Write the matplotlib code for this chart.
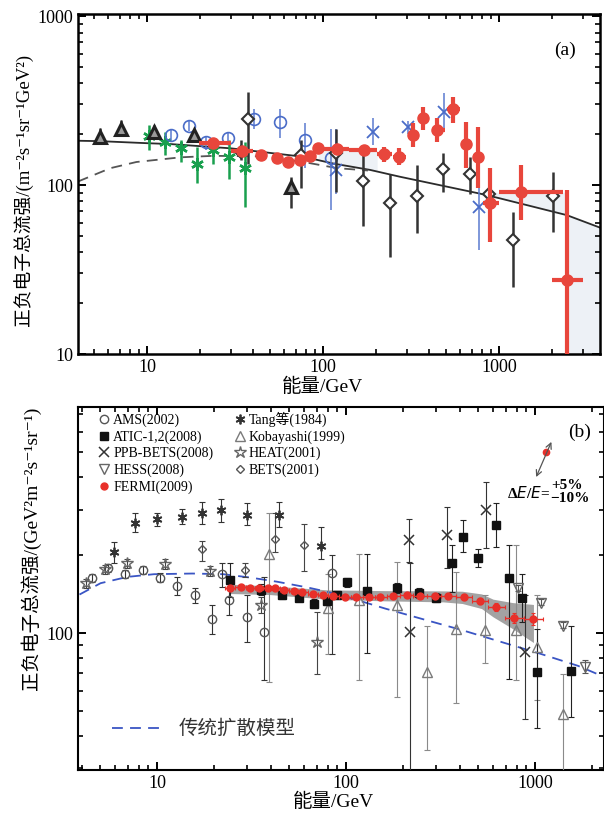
import matplotlib
matplotlib.use('Agg')
import numpy as np
import matplotlib.pyplot as plt
from matplotlib.lines import Line2D
from matplotlib.ticker import NullFormatter, FixedLocator, LogLocator

plt.rcParams['font.family'] = ['Liberation Serif', 'DejaVu Serif', 'Noto Sans CJK SC']

# ---------------- panel (a) data ----------------
tri_e = [5.4, 7.1, 10.9, 18.6, 65.9]
tri_f = [193, 216, 207, 198, 98]
tri_lo = [177, 198, 190, 182, 73]
tri_hi = [218, 244, 226, 215, 112]

green_e = [10.3, 12.7, 15.6, 19.2, 23.6, 29.4, 36.0]
green_f = [195, 180, 165, 134, 161, 147, 127]
green_lo = [161, 151, 137, 103, 134, 109, 74.5]
green_hi = [226, 207, 185, 169, 185, 185, 180]

bc_e = [13.6, 17.2, 21.6, 28.7, 40.4, 56.6, 78.9, 111.6]
bc_f = [198, 223, 180, 189, 246, 236, 185, 144]
bc_lo = [185, 208, 161, 173, 216, 189, 126, 71]
bc_hi = [212, 240, 193, 207, 284, 284, 232, 216]

bx_e = [119, 192, 305, 487, 766]
bx_f = [123, 207, 221, 272, 74.5]
bx_lo = [89, 173, 200, 216, 41]
bx_hi = [216, 248, 240, 349, 112]

dm_e = [34, 37.5, 75, 119, 169, 241, 343, 480, 682, 877, 1205, 2040]
dm_f = [158, 245, 151, 154, 106, 78.5, 86.5, 124, 117, 89, 47.3, 86.5]
dm_lo = [140, 134, 96, 91, 57, 37.7, 51.8, 91.5, 89, 82, 25, 53]
dm_hi = [185, 357, 185, 216, 165, 117, 131, 154, 147, 96, 69.5, 120]

red_e = [23.8, 34.5, 44.3, 54.6, 63.5, 74, 84.3, 94, 120, 171, 223, 270, 326,
         372, 442, 550, 646, 756, 889, 1334, 2427]
red_f = [177, 160, 151, 144, 137, 141, 149, 165, 163, 161, 152, 147, 198,
         248, 211, 281, 175, 147, 78.5, 90.6, 27.4]
red_lo = [177, 160, 151, 144, 137, 141, 149, 165, 163, 161, 137, 131, 169,
          211, 181, 232, 127, 95.5, 46.3, 62, 10]
red_hi = [177, 160, 151, 144, 137, 141, 149, 165, 163, 161, 169, 165, 232,
          291, 248, 333, 237, 222, 127, 131, 93.3]
red_xlo = [19.8, 30, 44.3, 54.6, 63.5, 74, 84.3, 94, 100, 140, 202, 250, 326,
           372, 414, 504, 646, 756, 813, 1000, 2010]
red_xhi = [30, 39.8, 44.3, 54.6, 63.5, 74, 84.3, 94, 140, 203, 245, 296, 326,
           372, 493, 600, 646, 756, 1000, 2310, 3015]

solid_e = [4.05, 5.4, 10, 13.5, 30, 77.5, 115, 185, 274, 780, 1014, 2427, 3750]
solid_f = [183, 182, 177, 175, 165, 147, 134, 123, 112, 89, 83.4, 66.4, 56]
dash_e = [4.05, 6.2, 8.7, 15.5, 23.8, 42, 77.5, 120, 180]
dash_f = [105, 126, 137, 146, 149, 148, 137, 126, 122]

shade1_e = [94, 120, 171, 203]
shade1_hi = [165, 163, 161, 160]
shade1_lo = [140, 131, 124, 120]
shade2_e = [780, 1014, 2427]
shade2_hi = [90.6, 90.6, 90.6]
shade2_lo = [89, 83.4, 66.4]
shade3_e = [2427, 3750]
shade3_hi = [66.4, 56]

# ---------------- panel (b) data ----------------
ams_e = [4.52, 5.5, 6.79, 8.46, 10.4, 12.8, 15.9, 19.5, 22.1, 24.1, 29.8, 36.8, 84.3]
ams_f = [163, 179, 169, 175, 164, 152, 140, 113, 170, 134, 115, 101, 171]
ams_lo = [157, 173, 163, 170, 157, 140, 131, 99.7, 151, 118, 92.6, 65.8, 83.4]
ams_hi = [169, 185, 176, 181, 171, 165, 150, 128, 186, 165, 141, 165, 200]

atic_e = [24.2, 35.4, 45.8, 56.6, 67.7, 79, 89.6, 100.8, 129, 186, 244, 300,
          362, 417, 498, 621, 732, 854, 1020, 1549]
atic_f = [161, 147, 141, 137, 130, 133, 141, 157, 146, 149, 143, 137,
          187, 235, 196, 261, 163, 137, 71, 71.3]
atic_lo = [138, 140, 136, 133, 125, 128, 136, 151, 84, 143, 137, 132,
           144, 206, 180, 215, 66.8, 110, 42.9, 47.5]
atic_hi = [186, 155, 146, 141, 135, 138, 146, 163, 203, 156, 150, 143,
           219, 273, 212, 317, 219, 170, 104, 107]

ppb_e = [216, 342, 552, 219, 881]
ppb_f = [229, 240, 298, 100.6, 84.7]
ppb_lo = [188, 178, 213, 29, 46.6]
ppb_hi = [277, 307, 384, 186, 140]

hess_e = [815, 1079, 1410, 1849]
hess_f = [149, 131, 107, 74.1]
hess_lo = [146, 128, 105, 70]
hess_hi = [153, 135, 110, 79]

fermi_e = [24.3, 27.7, 31.2, 34.6, 38.5, 42.3, 46.9, 52.8, 58.8, 66.7, 75.4, 85.5,
           98.6, 113.5, 131.9, 151.8, 177, 209, 246, 294, 347, 422, 509, 623, 777, 981]
fermi_f = [150, 151, 149.6, 148.8, 148.8, 148.8, 147.4, 145.3, 144.5, 141.9, 140.2,
           139.4, 138.1, 137.7, 138.1, 138.1, 139.0, 140.2, 139.8, 139.0, 139.0,
           138.1, 133.3, 126.4, 114.6, 113.2]
fermi_dy = [2, 2, 2, 2, 2, 2, 2, 2, 2, 2, 2, 2, 2, 2, 2, 2, 2, 2.5, 2.5, 3, 3,
            3.5, 4, 4.5, 5, 6]

tang_e = [5.95, 7.63, 9.97, 13.5, 17.3, 21.7, 29.8, 44, 73.6]
tang_f = [206, 267, 275, 281, 292, 300, 287, 287, 217]
tang_lo = [186, 245, 259, 263, 265, 269, 261, 258, 194]
tang_hi = [226, 292, 290, 301, 321, 329, 317, 321, 258]

kob_e = [38.9, 80.5, 117, 186, 267, 384, 547, 789, 1030, 1410]
kob_f = [203, 125, 134, 129, 71, 104, 103, 103, 88.3, 48.6]
kob_lo = [64.9, 83.4, 65.8, 56.8, 35.3, 53.5, 76.4, 65.8, 55, 29]
kob_hi = [290, 170, 203, 188, 107, 172, 140, 219, 140, 69.8]

heat_e = [4.19, 5.3, 6.95, 11, 19.1, 35.6, 70]
heat_f = [156, 177, 186, 185, 174, 129, 92.6]
heat_lo = [150, 170, 178, 177, 167, 120, 69.8]
heat_hi = [162, 184, 194, 193, 181, 138, 121]

bets_e = [17.3, 29.3, 42, 59.7]
bets_f = [211, 175, 231, 219]
bets_lo = [190, 165, 206, 174]
bets_hi = [227, 186, 290, 263]

band_e = [24.3, 39.5, 79.8, 161, 326, 412, 521, 600, 759, 981]
band_hi = [154.6, 152.4, 147, 146, 145.7, 145.2, 141.8, 135.3, 131.3, 129.1]
band_lo = [142.3, 141, 135.3, 133.3, 132.1, 130.2, 124.5, 115.6, 104.2, 92.0]

model_e = [3.89, 5.03, 6.98, 9.65, 15.4, 22.4, 31.2, 43.3, 63.1, 79.8, 101, 128,
           161, 258, 412, 659, 1054, 1686, 2318]
model_f = [141, 156, 165, 169, 170, 169, 164, 158, 150, 144.4, 138, 131, 124.5,
           113, 102.7, 92.6, 83.5, 74.8, 67.8]


def yerr(f, lo, hi):
    f = np.array(f, float)
    return [f - np.array(lo, float), np.array(hi, float) - f]


def style(ax):
    ax.set_xscale('log')
    ax.set_yscale('log')
    ax.tick_params(which='both', direction='in', top=True, right=True, labelsize=13)
    ax.tick_params(which='major', length=6, width=1.4)
    ax.tick_params(which='minor', length=3.5, width=1.2)
    ax.xaxis.set_minor_formatter(NullFormatter())
    ax.yaxis.set_minor_formatter(NullFormatter())


fig = plt.figure(figsize=(6.04, 8.13), dpi=100)

# ================= panel (a) =================
ax1 = fig.add_axes([78 / 604, 1 - 354 / 813, 522 / 604, 340 / 813])
style(ax1)
for s in ax1.spines.values():
    s.set_linewidth(1.8)

fc = '#edf1f6'
ax1.fill_between(shade1_e, shade1_lo, shade1_hi, color=fc, lw=0, zorder=0)
ax1.fill_between(shade2_e, shade2_lo, shade2_hi, color=fc, lw=0, zorder=0)
ax1.fill_between(shade3_e, [10, 10], shade3_hi, color=fc, lw=0, zorder=0)

ax1.plot(solid_e, solid_f, color='#2b2b2b', lw=1.3, zorder=2)
ax1.plot(dash_e, dash_f, color='#555555', lw=1.3, ls=(0, (6, 4)), zorder=2)

ax1.errorbar(green_e, green_f, yerr=yerr(green_f, green_lo, green_hi), fmt='none',
             ecolor='#19a04e', elinewidth=1.8, zorder=3)
ax1.plot(green_e, green_f, ls='none', marker=(6, 2, 0), ms=9, mew=1.8,
         color='#19a04e', zorder=3)

ax1.errorbar(bc_e, bc_f, yerr=yerr(bc_f, bc_lo, bc_hi), fmt='none',
             ecolor='#5b7bd0', elinewidth=1.1, zorder=3)
ax1.plot(bc_e, bc_f, ls='none', marker='o', ms=8.5, mfc='none', mec='#4a6cc8',
         mew=1.2, zorder=3)
ax1.errorbar(bx_e, bx_f, yerr=yerr(bx_f, bx_lo, bx_hi), fmt='none',
             ecolor='#5b7bd0', elinewidth=1.1, zorder=3)
ax1.plot(bx_e, bx_f, ls='none', marker='x', ms=8, mec='#4a6cc8', mew=1.3, zorder=3)

ax1.errorbar(dm_e, dm_f, yerr=yerr(dm_f, dm_lo, dm_hi), fmt='none',
             ecolor='#333333', elinewidth=1.8, zorder=3)
ax1.plot(dm_e, dm_f, ls='none', marker='D', ms=6, mfc='white', mec='#333333',
         mew=1.5, zorder=3)

ax1.errorbar(tri_e, tri_f, yerr=yerr(tri_f, tri_lo, tri_hi), fmt='none',
             ecolor='#333333', elinewidth=1.8, zorder=3)
ax1.plot(tri_e, tri_f, ls='none', marker='^', ms=9, mfc='#9a9a9a', mec='#222222',
         mew=2.2, zorder=3)

red_xerr = [np.array(red_e) - np.array(red_xlo), np.array(red_xhi) - np.array(red_e)]
ax1.errorbar(red_e, red_f, yerr=yerr(red_f, red_lo, red_hi), xerr=red_xerr,
             fmt='o', ms=8, color='#e8463c', ecolor='#e8463c', elinewidth=3, zorder=4)

ax1.set_xlim(4.05, 3750)
ax1.set_ylim(10, 1030)
ax1.xaxis.set_major_locator(FixedLocator([10, 100, 1000]))
ax1.set_xticklabels(['10', '100', '1000'])
ax1.yaxis.set_major_locator(FixedLocator([10, 100, 1000]))
ax1.set_yticklabels(['10', '100', '1000'])
ax1.yaxis.set_minor_locator(LogLocator(subs=range(2, 10)))
ax1.xaxis.set_minor_locator(LogLocator(subs=range(2, 10)))

ax1.set_xlabel('能量/GeV', fontsize=14)
ax1.xaxis.set_label_coords(0.469, -0.07)
ax1.set_ylabel('正负电子总流强/(m⁻²s⁻¹sr⁻¹GeV²)', fontsize=13.5)
ax1.yaxis.set_label_coords(-0.086, 0.482)
ax1.text(0.933, 0.894, '(a)', transform=ax1.transAxes, fontsize=14,
         ha='center', va='center')

# ================= panel (b) =================
ax2 = fig.add_axes([78 / 604, 1 - 770 / 813, 526 / 604, 363 / 813])
style(ax2)
for s in ax2.spines.values():
    s.set_linewidth(1.5)

ax2.fill_between(band_e, band_lo, band_hi, color='#a3a3a3', lw=0, zorder=1)
ax2.plot(model_e, model_f, color='#3a55c4', lw=1.3, ls=(0, (6, 4)), zorder=2)

ekw = dict(fmt='none', elinewidth=0.8, capsize=2.5, capthick=0.8, zorder=3)
ax2.errorbar(kob_e, kob_f, yerr=yerr(kob_f, kob_lo, kob_hi), ecolor='#8a8a8a', **ekw)
ax2.errorbar(tang_e, tang_f, yerr=yerr(tang_f, tang_lo, tang_hi), ecolor='#333333', **ekw)
ax2.errorbar(ams_e, ams_f, yerr=yerr(ams_f, ams_lo, ams_hi), ecolor='#333333', **ekw)
ax2.errorbar(heat_e, heat_f, yerr=yerr(heat_f, heat_lo, heat_hi), ecolor='#444444', **ekw)
ax2.errorbar(bets_e, bets_f, yerr=yerr(bets_f, bets_lo, bets_hi), ecolor='#444444', **ekw)
ax2.errorbar(atic_e, atic_f, yerr=yerr(atic_f, atic_lo, atic_hi), ecolor='#222222', **ekw)
ax2.errorbar(ppb_e, ppb_f, yerr=yerr(ppb_f, ppb_lo, ppb_hi), ecolor='#333333', **ekw)
ax2.errorbar(hess_e, hess_f, yerr=yerr(hess_f, hess_lo, hess_hi), ecolor='#555555', **ekw)

mk = {
    'AMS': dict(marker='o', ms=6, mfc='none', mec='#555555', mew=1.0),
    'ATIC': dict(marker='s', ms=6, mfc='#111111', mec='#111111', mew=1.0),
    'PPB': dict(marker='x', ms=7, mec='#333333', mew=1.1),
    'HESS': dict(marker='v', ms=7, mfc='none', mec='#666666', mew=1.0),
    'FERMI': dict(marker='o', ms=5, mfc='#e8302a', mec='#e8302a', mew=1.0),
    'Tang': dict(marker=(6, 2, 0), ms=7, mec='#333333', mew=1.3),
    'Kob': dict(marker='^', ms=6.5, mfc='none', mec='#7a7a7a', mew=1.0),
    'HEAT': dict(marker='*', ms=9, mfc='none', mec='#666666', mew=1.0),
    'BETS': dict(marker='D', ms=4.5, mfc='none', mec='#555555', mew=1.0),
}
ax2.plot(kob_e, kob_f, ls='none', zorder=4, **mk['Kob'])
ax2.plot(tang_e, tang_f, ls='none', zorder=4, **mk['Tang'])
ax2.plot(ams_e, ams_f, ls='none', zorder=4, **mk['AMS'])
ax2.plot(heat_e, heat_f, ls='none', zorder=4, **mk['HEAT'])
ax2.plot(bets_e, bets_f, ls='none', zorder=4, **mk['BETS'])
ax2.plot(atic_e, atic_f, ls='none', zorder=4, **mk['ATIC'])
ax2.plot(ppb_e, ppb_f, ls='none', zorder=4, **mk['PPB'])
ax2.plot(hess_e, hess_f, ls='none', zorder=4, **mk['HESS'])

# Fermi: horizontal bars span the bins between neighbouring points
fe = np.array(fermi_e)
edges = np.sqrt(fe[1:] * fe[:-1])
left = np.concatenate([[fe[0] ** 2 / edges[0]], edges])
right = np.concatenate([edges, [fe[-1] ** 2 / edges[-1]]])
ax2.errorbar(fermi_e, fermi_f, yerr=fermi_dy, xerr=[fe - left, right - fe], fmt='none',
             ecolor='#e8302a', elinewidth=1.0, capsize=1.5, capthick=0.8, zorder=5)
ax2.plot(fermi_e, fermi_f, ls='none', zorder=6, **mk['FERMI'])

ax2.set_xlim(3.82, 2317)
ax2.set_ylim(29.6, 748)
ax2.xaxis.set_major_locator(FixedLocator([10, 100, 1000]))
ax2.set_xticklabels(['10', '100', '1000'])
ax2.yaxis.set_major_locator(FixedLocator([100]))
ax2.set_yticklabels(['100'])
ax2.yaxis.set_minor_locator(LogLocator(subs=range(2, 10)))
ax2.xaxis.set_minor_locator(LogLocator(subs=range(2, 10)))

ax2.set_xlabel('能量/GeV', fontsize=14)
ax2.xaxis.set_label_coords(0.485, -0.063)
ax2.set_ylabel('正负电子总流强/(GeV²m⁻²s⁻¹sr⁻¹)', fontsize=14)
ax2.yaxis.set_label_coords(-0.07, 0.61)
ax2.text(0.954, 0.931, '(b)', transform=ax2.transAxes, fontsize=14,
         ha='center', va='center')

labels = ['AMS(2002)', 'ATIC-1,2(2008)', 'PPB-BETS(2008)', 'HESS(2008)', 'FERMI(2009)',
          'Tang等(1984)', 'Kobayashi(1999)', 'HEAT(2001)', 'BETS(2001)']
keys = ['AMS', 'ATIC', 'PPB', 'HESS', 'FERMI', 'Tang', 'Kob', 'HEAT', 'BETS']
handles = [Line2D([], [], ls='none', **mk[k]) for k in keys]
ax2.legend(handles, labels, ncol=2, loc='upper left', bbox_to_anchor=(0.034, 0.995),
           frameon=False, fontsize=10, handlelength=0.8, handletextpad=0.25,
           labelspacing=0.23, columnspacing=1.5, borderpad=0.2, borderaxespad=0)

# model legend entry inside panel
ax2.plot([0.065, 0.168], [0.115, 0.115], transform=ax2.transAxes, color='#3a55c4',
         lw=1.3, ls=(0, (6, 4)))
ax2.text(0.192, 0.115, '传统扩散模型', transform=ax2.transAxes, fontsize=14,
         ha='left', va='center', color='#333333')

# energy scale uncertainty marker
ax2.annotate('', xy=(0.900, 0.904), xytext=(0.871, 0.807), xycoords='axes fraction',
             arrowprops=dict(arrowstyle='<->', color='#555555', lw=0.9,
                             shrinkA=0, shrinkB=0))
ax2.plot([0.890], [0.876], 'o', ms=4.5, color='#e8302a', transform=ax2.transAxes)
ax2.text(0.898, 0.763, 'Δ$\\it{E}$/$\\it{E}$=', transform=ax2.transAxes, fontsize=11,
         ha='right', va='center', weight='bold')
ax2.text(0.930, 0.785, '+5%', transform=ax2.transAxes, fontsize=11, ha='center',
         va='center', weight='bold')
ax2.text(0.935, 0.749, '−10%', transform=ax2.transAxes, fontsize=11, ha='center',
         va='center', weight='bold')

plt.savefig('out.png', dpi=100)
